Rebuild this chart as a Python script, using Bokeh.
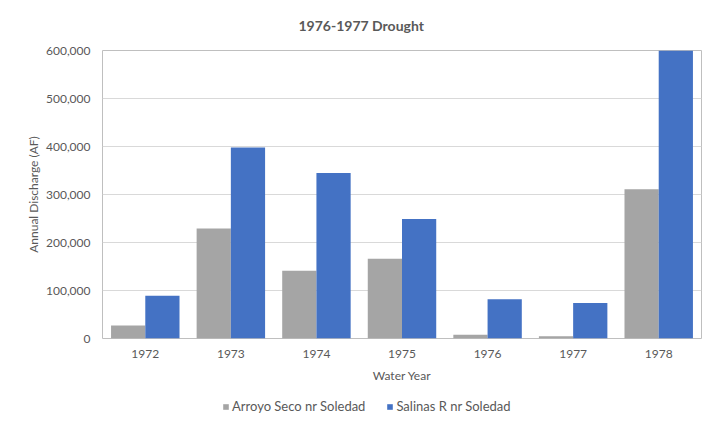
from bokeh.plotting import figure
from bokeh.layouts import column
from bokeh.models import ColumnDataSource, Range1d, NumeralTickFormatter, Legend, LegendItem, FixedTicker
from bokeh.transform import dodge
from bokeh.embed import file_html
from bokeh.resources import INLINE

years = ["1972", "1973", "1974", "1975", "1976", "1977", "1978"]
arroyo_seco = [27000, 229000, 141000, 166000, 8000, 4500, 311000]
salinas = [89000, 398000, 345000, 249000, 82000, 74000, 600000]
y_ticks = [0, 100000, 200000, 300000, 400000, 500000, 600000]

title_text = "1976-1977 Drought"
series_names = ["Arroyo Seco nr Soledad", "Salinas R nr Soledad"]
colors = ["#A5A5A5", "#4472C4"]
FONT = "Lato"
TXT = "#595959"

src = ColumnDataSource(dict(year=years, arroyo=arroyo_seco, salinas=salinas))

p = figure(x_range=years, y_range=Range1d(0, 600000),
           width=705, height=395,
           frame_width=599, frame_height=288,
           min_border_left=102, min_border_right=4, min_border_top=49, min_border_bottom=58,
           output_backend="svg", toolbar_location=None, title=title_text)

r1 = p.vbar(x=dodge("year", -0.2, range=p.x_range), top="arroyo", width=0.4, source=src,
            fill_color=colors[0], line_color=None)
r2 = p.vbar(x=dodge("year", 0.2, range=p.x_range), top="salinas", width=0.4, source=src,
            fill_color=colors[1], line_color=None)

p.background_fill_color = "white"
p.border_fill_color = "white"
p.outline_line_color = "#bfbfbf"
p.outline_line_width = 1

p.title.align = "left"
p.title.offset = 196
p.title.vertical_align = "middle"
p.title.standoff = 31
p.title.text_font = FONT
p.title.text_font_size = "14px"
p.title.text_font_style = "bold"
p.title.text_color = TXT

p.xgrid.grid_line_color = None
p.ygrid.grid_line_color = "#d9d9d9"
p.ygrid.ticker = FixedTicker(ticks=y_ticks)

p.yaxis.ticker = FixedTicker(ticks=y_ticks)
p.yaxis.formatter = NumeralTickFormatter(format="0,0")
for ax in (p.xaxis[0], p.yaxis[0]):
    ax.axis_line_color = None
    ax.major_tick_line_color = None
    ax.major_tick_out = 0
    ax.major_tick_in = 0
    ax.minor_tick_line_color = None
    ax.minor_tick_out = 0
    ax.major_label_text_font = FONT
    ax.major_label_text_font_size = "12px"
    ax.major_label_text_color = TXT
    ax.axis_label_text_font = FONT
    ax.axis_label_text_font_size = "12px"
    ax.axis_label_text_color = TXT
    ax.axis_label_text_font_style = "normal"

p.yaxis.axis_label = "Annual Discharge (AF)"
p.yaxis.major_label_standoff = 12
p.yaxis.axis_label_standoff = 2
p.xaxis.axis_label = "Water Year"
p.xaxis.major_label_standoff = 11
p.xaxis.axis_label_standoff = 7
p.x_range.range_padding = 0

# legend strip below the chart
q = figure(width=705, height=30, frame_width=705, frame_height=30,
           min_border=0, min_border_left=0, min_border_right=0, min_border_top=0, min_border_bottom=0,
           x_range=Range1d(0, 1), y_range=Range1d(0, 1),
           output_backend="svg", toolbar_location=None, title=None)
q.axis.visible = False
q.grid.visible = False
q.outline_line_color = None
q.background_fill_color = "white"
q.border_fill_color = "white"
# off-range placeholder bars, used only to carry the legend swatches
swatch = ColumnDataSource(dict(x=[-5], top=[0]))
l1 = q.vbar(x="x", top="top", width=0.4, source=swatch, fill_color=colors[0], line_color=None)
l2 = q.vbar(x="x", top="top", width=0.4, source=swatch, fill_color=colors[1], line_color=None)

legend = Legend(items=[LegendItem(label=series_names[0], renderers=[l1], index=0),
                       LegendItem(label=series_names[1], renderers=[l2], index=0)],
                location=(222, 12), orientation="horizontal",
                glyph_width=7, glyph_height=7, label_height=14, label_standoff=3,
                spacing=21, padding=0, margin=0,
                label_text_font=FONT, label_text_font_size="13px", label_text_color=TXT,
                border_line_color=None, background_fill_alpha=0)
q.add_layout(legend)

layout = column(p, q, spacing=0)
open("out.html", "w").write(file_html(layout, INLINE))
